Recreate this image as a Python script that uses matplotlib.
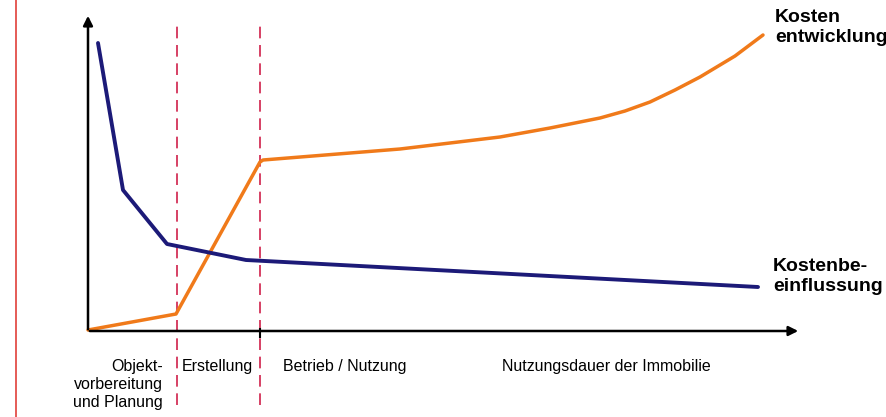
import matplotlib.pyplot as plt

# Data (x = time along life cycle, y = relative level)
blue_x = [10, 35, 79, 158, 670]
blue_y = [288, 141, 87, 71, 44]
orange_x = [0, 88, 172, 175, 312, 412, 462, 512, 537, 562, 587, 612, 647, 675]
orange_y = [1, 17, 169, 171, 182, 194, 203, 213, 220, 229, 241, 254, 275, 296]
phase_bounds = [89, 172]
phase_labels = ["Objekt-\nvorbereitung\nund Planung", "Erstellung", "Betrieb / Nutzung",
                "Nutzungsdauer der Immobilie"]
series_labels = ["Kosten\nentwicklung", "Kostenbe-\neinflussung"]

plt.rcParams['font.family'] = ['Liberation Sans', 'DejaVu Sans']
fig = plt.figure(figsize=(8.87, 4.17), dpi=100)
ax = fig.add_axes([0, 0, 1, 1])
ax.set_xlim(-88, 799)
ax.set_ylim(-86, 331)
ax.axis('off')

# scanned page margin line
ax.plot([-72, -72], [-86, 331], color='#e0403a', lw=1.2)

# phase separators
for b in phase_bounds:
    ax.plot([b, b], [-74, 306], color='#d0204a', lw=1.2, ls=(0, (7, 4)))

# axes with arrows
ax.annotate('', xy=(0, 318), xytext=(0, -1),
            arrowprops=dict(arrowstyle='-|>', color='black', lw=1.8, mutation_scale=14))
ax.annotate('', xy=(713, 0), xytext=(-1, 0),
            arrowprops=dict(arrowstyle='-|>', color='black', lw=1.8, mutation_scale=14))
ax.plot([172, 172], [-6, 2], color='black', lw=1.5)

ax.plot(orange_x, orange_y, color='#f07a1a', lw=2.5, solid_capstyle='round',
        solid_joinstyle='round')
ax.plot(blue_x, blue_y, color='#1c1a78', lw=2.8, solid_capstyle='round')

ax.text(687, 322, series_labels[0], fontsize=14, fontweight='bold', va='top', ha='left',
        linespacing=1.2)
ax.text(685, 73, series_labels[1], fontsize=14, fontweight='bold', va='top', ha='left',
        linespacing=1.2)

fs = 11.5
ax.text(75, -28, phase_labels[0], fontsize=fs, ha='right', va='top', linespacing=1.25)
ax.text(94, -28, phase_labels[1], fontsize=fs, ha='left', va='top')
ax.text(195, -28, phase_labels[2], fontsize=fs, ha='left', va='top')
ax.text(414, -28, phase_labels[3], fontsize=fs, ha='left', va='top')

fig.savefig('out.png', dpi=100)
